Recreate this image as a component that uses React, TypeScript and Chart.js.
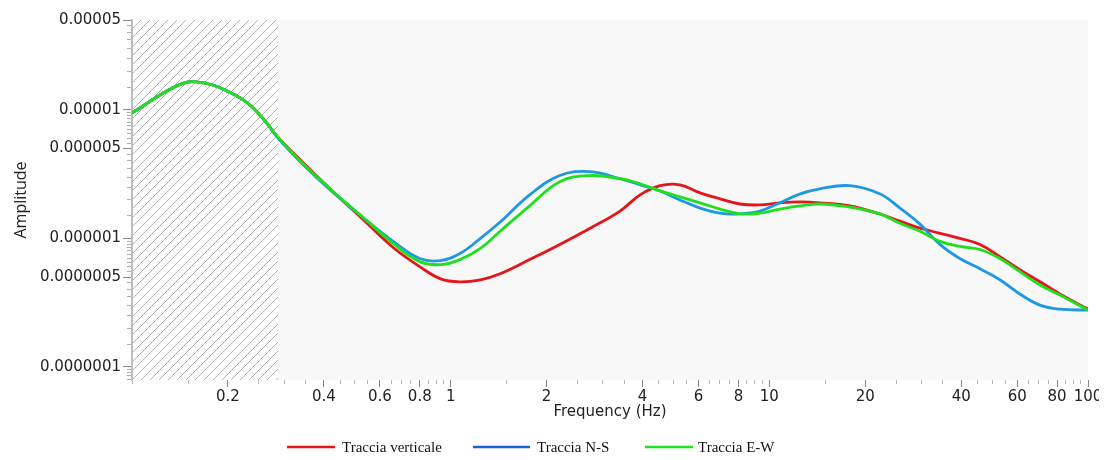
import React, { useEffect, useRef } from 'react';
import { Chart, registerables } from 'chart.js';

Chart.register(...registerables);

// ---- data ----
const frequencies = [0.1, 0.1435, 0.172, 0.2, 0.23, 0.26, 0.287, 0.344, 0.418, 0.53, 0.66, 0.8, 0.93, 1.07, 1.24, 1.43, 1.77, 2.2, 2.74, 3.4, 3.93, 4.54, 5.24, 6.06, 7.0, 8.09, 9.34, 10.8, 12.5, 14.4, 17.9, 22.2, 25.7, 29.7, 34.3, 39.6, 45.8, 52.9, 61.1, 70.7, 81.6, 100];

const tracciaVerticale = [9.47e-6, 1.6e-5, 1.6e-5, 1.39e-5, 1.135e-5, 8.34e-6, 6.13e-6, 3.9e-6, 2.43e-6, 1.41e-6, 8.49e-7, 6.02e-7, 4.84e-7, 4.59e-7, 4.76e-7, 5.3e-7, 6.83e-7, 8.97e-7, 1.2e-6, 1.63e-6, 2.18e-6, 2.57e-6, 2.61e-6, 2.26e-6, 2.03e-6, 1.85e-6, 1.82e-6, 1.89e-6, 1.92e-6, 1.89e-6, 1.79e-6, 1.55e-6, 1.36e-6, 1.2e-6, 1.095e-6, 1.0e-6, 8.97e-7, 7.21e-7, 5.7e-7, 4.59e-7, 3.69e-7, 2.81e-7];

const tracciaNS = [9.47e-6, 1.6e-5, 1.6e-5, 1.39e-5, 1.135e-5, 8.34e-6, 6.02e-6, 3.76e-6, 2.39e-6, 1.46e-6, 9.47e-7, 6.96e-7, 6.71e-7, 7.62e-7, 1.0e-6, 1.34e-6, 2.18e-6, 3.08e-6, 3.31e-6, 2.91e-6, 2.61e-6, 2.34e-6, 1.99e-6, 1.72e-6, 1.57e-6, 1.55e-6, 1.63e-6, 1.89e-6, 2.22e-6, 2.43e-6, 2.57e-6, 2.22e-6, 1.72e-6, 1.29e-6, 8.97e-7, 6.96e-7, 5.8e-7, 4.76e-7, 3.69e-7, 3.02e-7, 2.81e-7, 2.76e-7];

const tracciaEW = [9.47e-6, 1.6e-5, 1.6e-5, 1.39e-5, 1.135e-5, 8.34e-6, 6.13e-6, 3.83e-6, 2.43e-6, 1.46e-6, 9.13e-7, 6.59e-7, 6.24e-7, 6.83e-7, 8.34e-7, 1.135e-6, 1.79e-6, 2.76e-6, 3.08e-6, 2.91e-6, 2.66e-6, 2.34e-6, 2.1e-6, 1.89e-6, 1.69e-6, 1.55e-6, 1.57e-6, 1.69e-6, 1.79e-6, 1.85e-6, 1.75e-6, 1.55e-6, 1.31e-6, 1.135e-6, 9.47e-7, 8.65e-7, 8.19e-7, 6.96e-7, 5.5e-7, 4.34e-7, 3.62e-7, 2.76e-7];

const seriesLabels = ['Traccia verticale', 'Traccia N-S', 'Traccia E-W'];
const lineColors = ['#e3161c', '#1e98e4', '#1fe01f'];
const legendColors = ['#e3161c', '#1a62d8', '#22e022'];

const xTickLabels = ['0.2', '0.4', '0.6', '0.8', '1', '2', '4', '6', '8', '10', '20', '40', '60', '80', '100'];
const yTickLabels = ['0.00005', '0.00001', '0.000005', '0.000001', '0.0000005', '0.0000001'];

const xMin = 0.1;
const xMax = 100;
const yMin = 7.9e-8;
const yMax = 5e-5;
const hatchEnd = 0.287;

// ---- helpers ----
const matchLabel = (labels: string[], v: number) =>
  labels.find((l) => Math.abs(v / parseFloat(l) - 1) < 1e-6);

const minorValues = (lo: number, hi: number) => {
  const out: number[] = [];
  for (let e = -9; e <= 3; e++) {
    const d = Math.pow(10, e);
    for (let m = 1; m < 10; m += 0.5) {
      const v = Number((m * d).toPrecision(6));
      if (v >= lo * 0.9999 && v <= hi * 1.0001) out.push(v);
    }
  }
  return out;
};

const backgroundPlugin = {
  id: 'hatchBackground',
  beforeDraw(chart: any) {
    const { ctx, chartArea: a, scales } = chart;
    const xe = scales.x.getPixelForValue(hatchEnd);
    ctx.save();
    ctx.fillStyle = '#f8f8f8';
    ctx.fillRect(a.left, a.top, a.right - a.left, a.bottom - a.top);
    ctx.fillStyle = '#ffffff';
    ctx.fillRect(a.left, a.top, xe - a.left, a.bottom - a.top);
    ctx.beginPath();
    ctx.rect(a.left, a.top, xe - a.left, a.bottom - a.top);
    ctx.clip();
    ctx.strokeStyle = '#b4b4b4';
    ctx.lineWidth = 1;
    ctx.beginPath();
    const h = a.bottom - a.top;
    for (let s = a.left - h; s < xe + 2; s += 9) {
      ctx.moveTo(s, a.bottom);
      ctx.lineTo(s + h, a.top);
    }
    ctx.stroke();
    ctx.restore();
  },
};

// legend item placement (line start, line end, text start) in canvas pixels
const legendLayout = [
  [279, 327, 334],
  [465, 522, 529],
  [637, 685, 690],
];

const legendPlugin = {
  id: 'bottomLegend',
  afterDraw(chart: any) {
    const { ctx } = chart;
    ctx.save();
    ctx.font = '15px "Liberation Serif", "Times New Roman", serif';
    ctx.textBaseline = 'middle';
    ctx.textAlign = 'left';
    const y = 439;
    chart.data.datasets.forEach((ds: any, i: number) => {
      const [x1, x2, tx] = legendLayout[i];
      ctx.strokeStyle = legendColors[i];
      ctx.lineWidth = 2.6;
      ctx.beginPath();
      ctx.moveTo(x1, y);
      ctx.lineTo(x2, y);
      ctx.stroke();
      ctx.fillStyle = '#111';
      ctx.fillText(ds.label, tx, y + 1);
    });
    ctx.restore();
  },
};

export default function App() {
  const canvasRef = useRef<HTMLCanvasElement | null>(null);

  useEffect(() => {
    if (!canvasRef.current) return;
    const prevOverflow = document.documentElement.style.overflow;
    document.documentElement.style.overflow = 'hidden';
    const series = [tracciaVerticale, tracciaNS, tracciaEW];
    const drawOrder = [3, 2, 1];
    const tickFont = { family: '"DejaVu Sans", Verdana, sans-serif', size: 15 };

    const chart = new Chart(canvasRef.current, {
      type: 'line',
      data: {
        datasets: series.map((vals, i) => ({
          label: seriesLabels[i],
          data: frequencies.map((f, j) => ({ x: f, y: vals[j] })),
          borderColor: lineColors[i],
          backgroundColor: lineColors[i],
          borderWidth: 2.8,
          pointRadius: 0,
          tension: 0.4,
          fill: false,
          order: drawOrder[i],
        })),
      },
      options: {
        animation: false,
        responsive: false,
        layout: { padding: { top: 12, right: 19, left: 0, bottom: 0 } },
        plugins: {
          legend: { display: false },
          tooltip: { enabled: false },
        },
        scales: {
          x: {
            type: 'logarithmic',
            min: xMin,
            max: xMax,
            afterBuildTicks: (scale: any) => {
              scale.ticks = minorValues(xMin, xMax).map((v) => ({ value: v }));
            },
            afterFit: (scale: any) => {
              scale.height = 72;
            },
            border: { display: false },
            grid: {
              drawOnChartArea: false,
              drawTicks: true,
              tickLength: 7,
              tickColor: (c: any) => (matchLabel(xTickLabels, c.tick.value) ? '#8a8a8a' : '#b8b8b8'),
              tickWidth: 1,
              tickBorderDash: (c: any) => (matchLabel(xTickLabels, c.tick.value) ? [] : [4, 100]),
            },
            ticks: {
              autoSkip: false,
              maxRotation: 0,
              minRotation: 0,
              padding: 1,
              color: '#222',
              font: tickFont,
              callback: (v: any) => matchLabel(xTickLabels, Number(v)) ?? '',
            },
            title: {
              display: true,
              text: 'Frequency (Hz)',
              color: '#222',
              font: { family: '"DejaVu Sans", Verdana, sans-serif', size: 15 },
              padding: { top: 4, bottom: 31 },
            },
          },
          y: {
            type: 'logarithmic',
            min: yMin,
            max: yMax,
            afterBuildTicks: (scale: any) => {
              scale.ticks = minorValues(yMin, yMax).map((v) => ({ value: v }));
            },
            afterFit: (scale: any) => {
              scale.width = 124;
            },
            border: { display: true, color: '#bdbdbd', width: 2 },
            grid: {
              drawOnChartArea: false,
              drawTicks: true,
              tickLength: 9,
              tickColor: (c: any) => (matchLabel(yTickLabels, c.tick.value) ? '#8a8a8a' : '#b0b0b0'),
              tickWidth: 1,
              tickBorderDash: (c: any) => (matchLabel(yTickLabels, c.tick.value) ? [] : [0, 4, 5, 100]),
            },
            ticks: {
              autoSkip: false,
              padding: 2,
              color: '#222',
              font: tickFont,
              callback: (v: any) => matchLabel(yTickLabels, Number(v)) ?? '',
            },
            title: {
              display: true,
              text: 'Amplitude',
              color: '#222',
              font: { family: '"Open Sans", sans-serif', size: 16 },
              padding: { top: 4, bottom: 0 },
            },
          },
        },
      },
      plugins: [backgroundPlugin, legendPlugin],
    } as any);

    return () => {
      chart.destroy();
      document.documentElement.style.overflow = prevOverflow;
    };
  }, []);

  return (
    <canvas
      ref={canvasRef}
      width={1099}
      height={444}
      style={{ display: 'block', width: 1099, height: 444 }}
    />
  );
}
